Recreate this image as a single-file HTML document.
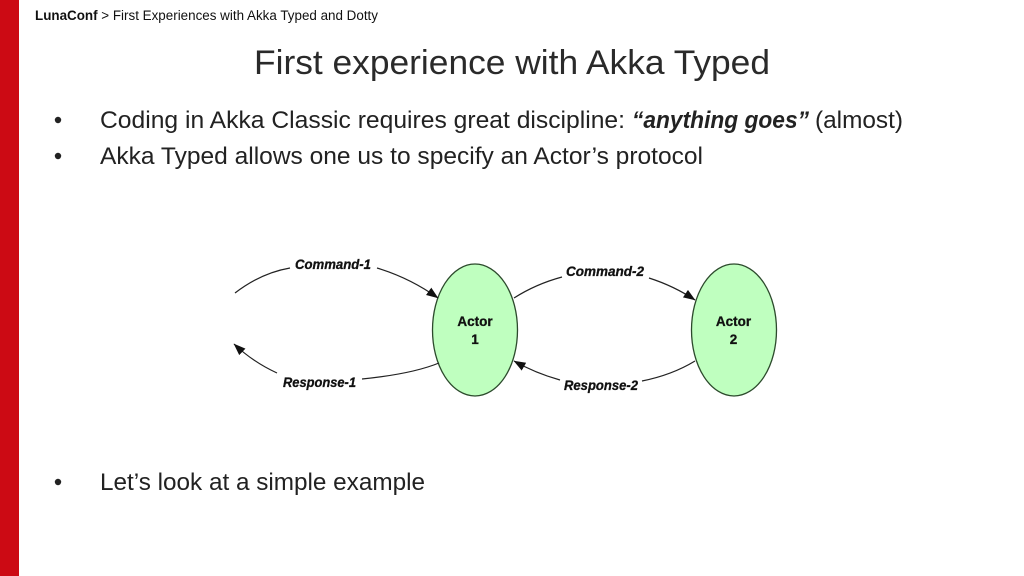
<!DOCTYPE html>
<html>
<head>
<meta charset="utf-8">
<style>
html,body{margin:0;padding:0;background:#fff;width:1024px;height:576px;overflow:hidden}
svg{display:block}
text{font-family:"Liberation Sans",sans-serif;fill:#111}
.c{fill:none;stroke:#222;stroke-width:1.2}
.l{font-size:13.5px;font-weight:bold;font-style:italic;stroke:#111;stroke-width:.3px}
.a{font-size:13.5px;font-weight:bold;text-anchor:middle;stroke:#111;stroke-width:.3px}
.b{font-size:24px;fill:#222}
</style>
</head>
<body>
<svg width="1024" height="576" viewBox="0 0 1024 576" xmlns="http://www.w3.org/2000/svg">
<defs>
<marker id="ah" markerUnits="userSpaceOnUse" markerWidth="12" markerHeight="10" refX="11.5" refY="4.500" orient="auto">
<path d="M0 0L12 4.500L0 9Z" fill="#111"/>
</marker>
</defs>
<rect x="0" y="0" width="1024" height="576" fill="#fff"/>
<rect x="0" y="0" width="19" height="576" fill="#cc0a14"/>

<text x="35" y="20" font-size="13.5" textLength="343" lengthAdjust="spacingAndGlyphs"><tspan font-weight="bold">LunaConf</tspan> &gt; First Experiences with Akka Typed and Dotty</text>

<text x="254" y="74" font-size="34" textLength="516" lengthAdjust="spacingAndGlyphs" style="fill:#2a2a2a">First experience with Akka Typed</text>

<circle cx="58" cy="120" r="3.2" fill="#222"/>
<text class="b" x="100" y="128" textLength="525" lengthAdjust="spacingAndGlyphs">Coding in Akka Classic requires great discipline:</text>
<text class="b" x="632" y="128" textLength="177" lengthAdjust="spacingAndGlyphs" font-weight="bold" font-style="italic">“anything goes”</text>
<text class="b" x="815" y="128" textLength="88" lengthAdjust="spacingAndGlyphs">(almost)</text>

<circle cx="58" cy="156" r="3.2" fill="#222"/>
<text class="b" x="100" y="164" textLength="603" lengthAdjust="spacingAndGlyphs">Akka Typed allows one us to specify an Actor’s protocol</text>

<circle cx="58" cy="482" r="3.2" fill="#222"/>
<text class="b" x="100" y="490" textLength="325" lengthAdjust="spacingAndGlyphs">Let’s look at a simple example</text>

<ellipse cx="475" cy="330" rx="42.5" ry="66" fill="#bfffbf" stroke="#2c4a2c" stroke-width="1.3"/>
<ellipse cx="734" cy="330" rx="42.5" ry="66" fill="#bfffbf" stroke="#2c4a2c" stroke-width="1.3"/>

<text class="a" x="475" y="326">Actor</text>
<text class="a" x="475" y="344">1</text>
<text class="a" x="733.500" y="326">Actor</text>
<text class="a" x="733.500" y="344">2</text>

<path class="c" d="M235 293Q261 273 290 268"/>
<path class="c" d="M377 268Q410 278 438 298" marker-end="url(#ah)"/>
<path class="c" d="M439 363Q412 374 362 379"/>
<path class="c" d="M277 373Q253 362 234 344" marker-end="url(#ah)"/>
<path class="c" d="M514 298Q536 284 562 277"/>
<path class="c" d="M649 278Q674 286 695 300" marker-end="url(#ah)"/>
<path class="c" d="M695 361Q672 375 642 381"/>
<path class="c" d="M560 380Q535 373 514 361" marker-end="url(#ah)"/>

<text class="l" x="295" y="269" textLength="76" lengthAdjust="spacingAndGlyphs">Command-1</text>
<text class="l" x="283" y="387" textLength="73" lengthAdjust="spacingAndGlyphs">Response-1</text>
<text class="l" x="566" y="276" textLength="78" lengthAdjust="spacingAndGlyphs">Command-2</text>
<text class="l" x="564" y="390" textLength="74" lengthAdjust="spacingAndGlyphs">Response-2</text>
</svg>
</body>
</html>
